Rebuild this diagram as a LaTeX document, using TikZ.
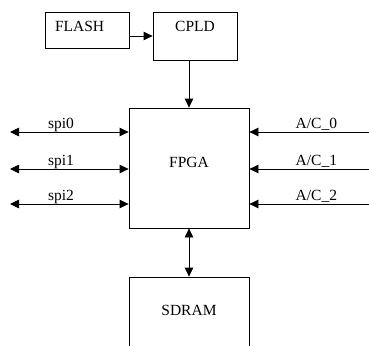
\documentclass[tikz,border=0pt]{standalone}
\usepackage{fontspec}
\setmainfont{Liberation Serif}
\usetikzlibrary{arrows.meta}
\usetikzlibrary{positioning}
\usetikzlibrary{calc}
\tikzset{
blk/.style = {draw, rectangle, inner sep=0pt, line width=0.8pt},
arr/.style = {-{Triangle[length=9pt,width=8.5pt]}, line width=0.8pt},
darr/.style = {{Triangle[length=9pt,width=8.5pt]}-{Triangle[length=9pt,width=8.5pt]}, line width=0.8pt},
lbl/.style = {anchor=base, yshift=4pt, inner sep=0pt}
}

\begin{document}
\begin{tikzpicture}[x=1pt, y=-1pt, font=\fontsize{15.5}{18}\selectfont]
        \useasboundingbox (0,0) rectangle (369,345);
        % boxes
        \node[blk, text width=64pt, inner xsep=10pt, text height=20pt, text depth=16pt] (flash) at (87,30) {FLASH};
        \node[blk, minimum width=84pt, text height=20pt, text depth=28pt] (cpld) at (195,36) {CPLD};
        \node[blk, minimum width=120pt, text height=59pt, text depth=61pt] (fpga) at (189,168) {FPGA};
        \node[blk, minimum width=120pt, text height=38pt, text depth=37pt] (sdram) at (189,314.5) {SDRAM};
        % links
        \draw[arr] (flash.east |- cpld.west) -- (cpld.west);
        \draw[arr] (cpld.south -| fpga.north) -- (fpga.north);
        \draw[darr] (fpga.south) -- (sdram.north);
        \foreach \i/\y in {0/132,1/169,2/204}{
          \coordinate (spi\i) at (10,\y);
          \coordinate (ac\i) at (369,\y);
          \draw[darr] (spi\i) -- (spi\i -| fpga.west) node[lbl, pos=.43] {spi\i};
          \draw[arr] (ac\i) -- (ac\i -| fpga.east) node[lbl, pos=.44] {A/C\_\i};
        }
\end{tikzpicture}
\end{document}
